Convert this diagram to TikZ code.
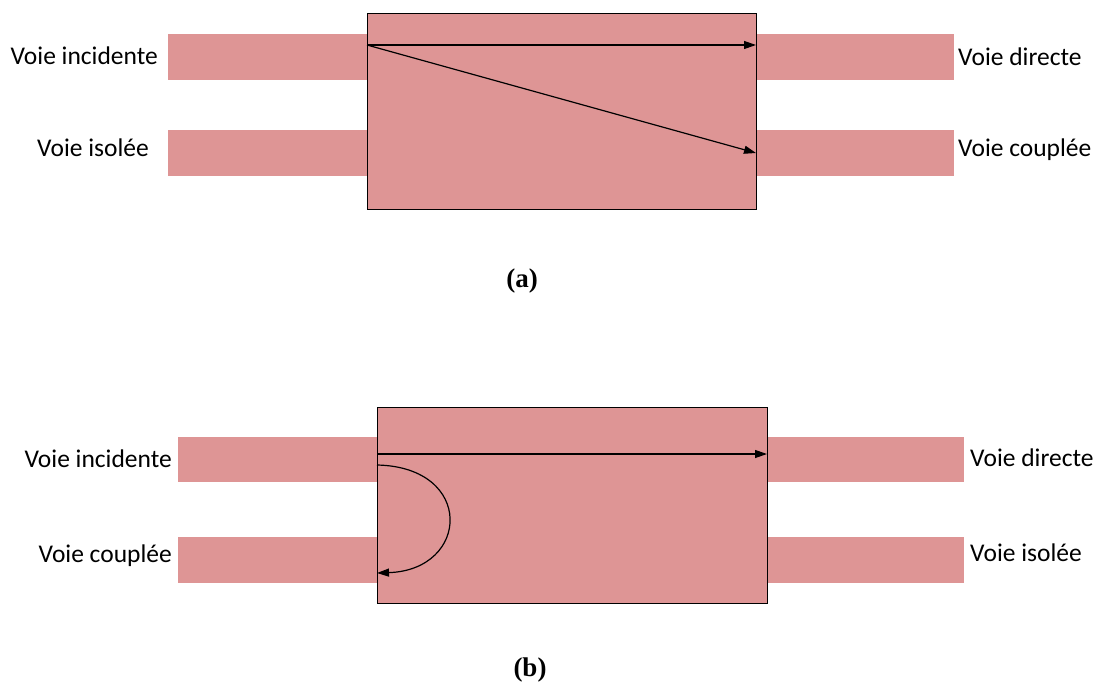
\documentclass[tikz,border=0pt]{standalone}
\usepackage{fontspec}
\setmainfont{Carlito}
\newfontfamily\capfont{Liberation Serif}
\usetikzlibrary{arrows.meta}
\definecolor{strip}{RGB}{222,149,149}
\tikzset{
  stripbox/.style={fill=strip, draw=none, inner sep=0pt, anchor=north west},
  coupler/.style={fill=strip, draw=black, line width=1.4pt, inner sep=0pt, anchor=north west},
  lbl/.style={font=\fontsize{25.5}{30}\selectfont, inner sep=0pt},
  captxt/.style={font=\capfont\bfseries\fontsize{27}{30}\selectfont, inner sep=0pt},
  sig/.style={line width=1.2pt, -{Triangle[length=12pt,width=8pt]}}
}
\begin{document}
\begin{tikzpicture}[x=1pt,y=-1pt]
\useasboundingbox (0,0) rectangle (1100,682);
% ---------- (a)
\node[stripbox, minimum width=199pt, minimum height=46pt] (aL1) at (168,34) {};
\node[stripbox, minimum width=199pt, minimum height=46pt] (aL2) at (168,130) {};
\node[stripbox, minimum width=198pt, minimum height=46pt] (aR1) at (756,34) {};
\node[stripbox, minimum width=198pt, minimum height=46pt] (aR2) at (756,130) {};
\node[coupler, minimum width=389pt, minimum height=196pt] (aBox) at (367,13) {};
\coordinate (aIn) at (367,45);
\coordinate (aDir) at (756,45);
\coordinate (aCpl) at (756,153);
\draw[sig] (aIn) -- (aDir);
\draw[sig] (aIn) -- (aCpl);
\node[lbl, anchor=base east] (aT1) at (158,65) {Voie incidente};
\node[lbl, anchor=base east] (aT2) at (149,157) {Voie isolée};
\node[lbl, anchor=base west] (aT3) at (958,66) {Voie directe};
\node[lbl, anchor=base west] (aT4) at (958,157) {Voie couplée};
\node[captxt] (capA) at (522,281) {(a)};
% ---------- (b)
\node[stripbox, minimum width=199pt, minimum height=45pt] (bL1) at (178,437) {};
\node[stripbox, minimum width=199pt, minimum height=46pt] (bL2) at (178,537) {};
\node[stripbox, minimum width=197pt, minimum height=45pt] (bR1) at (767,437) {};
\node[stripbox, minimum width=197pt, minimum height=46pt] (bR2) at (767,537) {};
\node[coupler, minimum width=390pt, minimum height=196pt] (bBox) at (377,407) {};
\coordinate (bIn) at (377,454);
\coordinate (bDir) at (767,454);
\coordinate (bC0) at (377,465);
\coordinate (bCpl) at (377,573);
\draw[sig] (bIn) -- (bDir);
\draw[sig] (bC0) .. controls (475,467) and (470,570) .. (bCpl);
\node[lbl, anchor=base east] (bT1) at (172,467) {Voie incidente};
\node[lbl, anchor=base east] (bT2) at (172,562) {Voie couplée};
\node[lbl, anchor=base west] (bT3) at (970,466) {Voie directe};
\node[lbl, anchor=base west] (bT4) at (970,561) {Voie isolée};
\node[captxt] (capB) at (530,670) {(b)};
\end{tikzpicture}
\end{document}
